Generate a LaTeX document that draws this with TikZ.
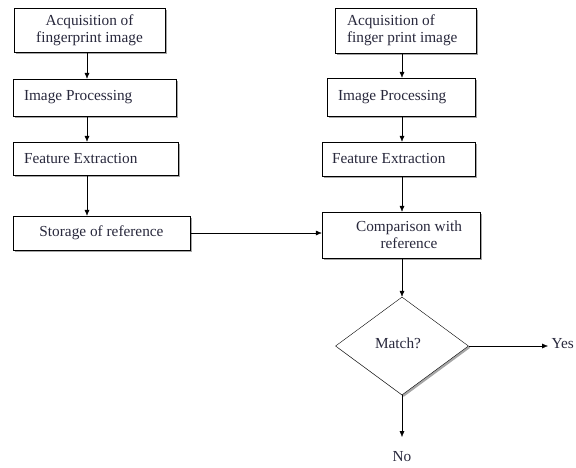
\documentclass[tikz,border=0pt]{standalone}
\usepackage{fontspec}
\setmainfont{Liberation Serif}
\usetikzlibrary{arrows.meta,shapes.geometric,shadows}
\definecolor{inktext}{RGB}{40,40,60}
\begin{document}
\begin{tikzpicture}[x=1pt,y=-1pt,
    every node/.style={font=\fontsize{15.3}{17}\selectfont, text=inktext},
    stage/.style={draw, fill=white, inner ysep=0pt,
      drop shadow={shadow xshift=1.8pt,shadow yshift=-1.8pt,fill=gray!70,opacity=1}},
    decision/.style={diamond, draw, fill=white, inner sep=0pt, aspect=1.36,
      minimum width=133pt, minimum height=98pt,
      drop shadow={shadow xshift=1.8pt,shadow yshift=-1.8pt,fill=gray!70,opacity=1}},
    flow/.style={-{Latex[length=6pt,width=5pt]}}]
    \useasboundingbox (0,0) rectangle (576,467);
    %% columns of the arrows
    \coordinate (colL) at (87,0);
    \coordinate (colR) at (402,0);
    %% left column: enrolment
    \node[stage, minimum width=151pt, minimum height=44pt, align=center] (lacq) at (89.5,30) {Acquisition of\\fingerprint image};
    \node[stage, text width=141pt, inner xsep=11pt, minimum height=37pt, align=flush left] (lproc) at (94.5,97.5) {Image Processing};
    \node[stage, text width=143pt, inner xsep=11pt, minimum height=33pt, align=flush left] (lfeat) at (95.5,158.5) {Feature Extraction};
    \node[stage, minimum width=177pt, minimum height=34pt, align=center] (lstore) at (101.5,233) {Storage of reference};
    %% right column: verification
    \node[stage, text width=117pt, inner xsep=12pt, minimum height=45pt, align=flush left] (racq) at (405.5,30.5) {Acquisition of\\finger print image};
    \node[stage, text width=126pt, inner xsep=11pt, minimum height=38pt, align=flush left] (rproc) at (401,97) {Image Processing};
    \node[stage, text width=133pt, inner xsep=10pt, minimum height=34pt, align=flush left] (rfeat) at (398.5,159) {Feature Extraction};
    \node[stage, minimum width=158pt, minimum height=46pt, align=center] (rcomp) at (401,235) {\hspace*{16pt}Comparison with\\\hspace*{16pt}reference};
    %% decision
    \node[decision] (match) at (402,346) {\raisebox{6pt}{Match?}\hspace*{8pt}};
    \node[anchor=west] (yes) at (548,344) {Yes};
    \node (no) at (402,457) {No};
    \coordinate (noend) at (402,437);
    %% arrows
    \draw[flow] (lacq.south -| colL) -- (lproc.north -| colL);
    \draw[flow] (lproc.south -| colL) -- (lfeat.north -| colL);
    \draw[flow] (lfeat.south -| colL) -- (lstore.north -| colL);
    \draw[flow] (racq.south -| colR) -- (rproc.north -| colR);
    \draw[flow] (rproc.south -| colR) -- (rfeat.north -| colR);
    \draw[flow] (rfeat.south -| colR) -- (rcomp.north -| colR);
    \draw[flow] (lstore.east) -- (lstore.east -| rcomp.west);
    \draw[flow] (rcomp.south -| colR) -- (match.north);
    \draw[flow] (match.east) -- (match.east -| yes.west);
    \draw[flow] (match.south) -- (noend);
\end{tikzpicture}
\end{document}
